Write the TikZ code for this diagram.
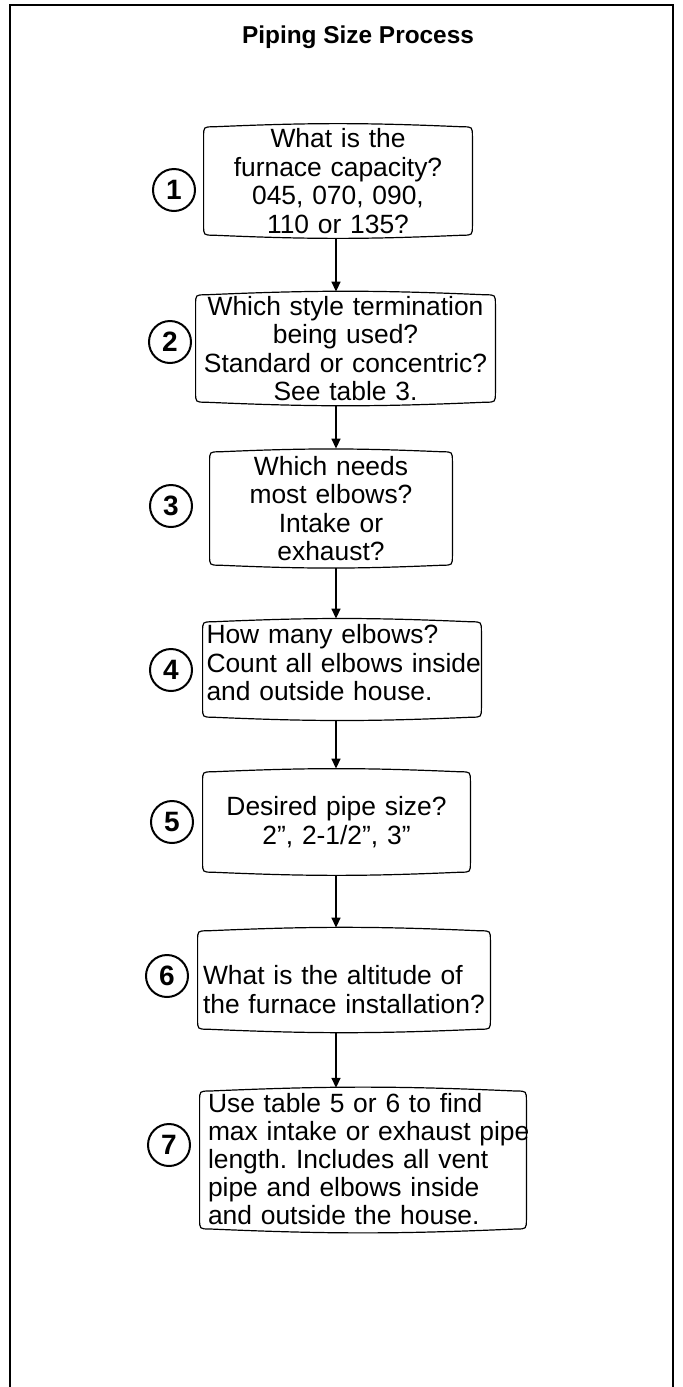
\documentclass[tikz,border=0pt]{standalone}
\usepackage{fontspec}
\setmainfont{Liberation Sans}
\usetikzlibrary{arrows.meta}

\begin{document}
\begin{tikzpicture}[x=0.5pt, y=-0.5pt,
    stepbox/.style={inner xsep=2pt, inner ysep=0.5pt, font=\fontsize{13.2}{14.3}\selectfont\frenchspacing},
    boxline/.style={line width=0.6pt},
    num/.style={draw, circle, line width=1pt, minimum size=21pt, inner sep=0pt, font=\fontsize{14}{14}\selectfont\bfseries},
    flow/.style={-{Triangle[width=4.5pt,length=5pt]}, line width=0.7pt}]

    % Area del disegno
    \useasboundingbox (0,0) rectangle (683,1387);

    % Cornice (aperta in basso)
    \draw[line width=1.3pt] (10,1387) -- (10,5) -- (673,5) -- (673,1387);

    % Titolo
    \node[font=\fontsize{12.2}{14}\selectfont\bfseries, anchor=base] (title) at (358,43) {Piping Size Process};

    % Passo 1
    \node[stepbox, text width=130pt, align=center, minimum height=57pt] (b1) at (338,181) {What is the\\ furnace capacity?\\ 045, 070, 090,\\ 110 or 135?};
    \node[num] (n1) at (174,190) {1};

    % Passo 2
    \node[stepbox, text width=145.5pt, align=center, minimum height=56.5pt] (b2) at (345.5,348.5) {Which style termination\\ being used?\\ Standard or concentric?\\ See table 3.};
    \node[num] (n2) at (170,342) {2};

    % Passo 3
    \node[stepbox, text width=117pt, align=center, minimum height=59.5pt] (b3) at (331,508.5) {Which needs\\ most elbows?\\ Intake or\\ exhaust?};
    \node[num] (n3) at (171,506) {3};

    % Passo 4
    \node[stepbox, inner xsep=1.75pt, text width=135.5pt, align=left, minimum height=50.5pt] (b4) at (342,669.5) {How many elbows?\\ \mbox{Count all elbows inside}\\ and outside house.\rule[-7pt]{0pt}{0pt}};
    \node[num] (n4) at (171,670) {4};

    % Passo 5
    \node[stepbox, text width=129.5pt, align=center, minimum height=53pt] (b5) at (336.5,822) {Desired pipe size?\\ 2”, 2-1/2”, 3”};
    \node[num] (n5) at (172,822) {5};

    % Passo 6 (testo un po' piu' in basso)
    \node[stepbox, inner xsep=2.5pt, text width=141pt, align=left, minimum height=52pt] (b6) at (344,980) {\rule{0pt}{19pt}What is the altitude of\\ \mbox{the furnace installation?}};
    \node[num] (n6) at (167,976) {6};

    % Passo 7 (la riga lunga esce dal bordo)
    \node[stepbox, font=\fontsize{13.2}{14}\selectfont\frenchspacing, inner xsep=4pt, inner ysep=2.6pt, text width=155pt, align=left] (b7) at (363,1160) {Use table 5 or 6 to find\\ \mbox{max intake or exhaust pipe}\\ length. Includes all vent\\ pipe and elbows inside\\ and outside the house.\rule[-1pt]{0pt}{0pt}};
    \node[num] (n7) at (169,1145) {7};

    % Contorni dei riquadri, bordi sopra e sotto leggermente curvi
    \foreach \b in {b1,b2,b3,b4,b5,b6,b7}
        \draw[boxline] ([yshift=-6.6pt]\b.north west)
            .. controls ([yshift=-1.6pt]\b.north west) .. ([xshift=5pt,yshift=-1.6pt]\b.north west)
            to[bend left=2.5] ([xshift=-5pt,yshift=-1.6pt]\b.north east)
            .. controls ([yshift=-1.6pt]\b.north east) .. ([yshift=-6.6pt]\b.north east)
            -- ([yshift=6.6pt]\b.south east)
            .. controls ([yshift=1.6pt]\b.south east) .. ([xshift=-5pt,yshift=1.6pt]\b.south east)
            to[bend left=2.5] ([xshift=5pt,yshift=1.6pt]\b.south west)
            .. controls ([yshift=1.6pt]\b.south west) .. ([yshift=6.6pt]\b.south west)
            -- cycle;

    % Frecce tra i passi
    \coordinate (spine) at (336,0);
    \draw[flow] (b1.south -| spine) -- (b2.north -| spine);
    \draw[flow] (b2.south -| spine) -- (b3.north -| spine);
    \draw[flow] (b3.south -| spine) -- (b4.north -| spine);
    \draw[flow] (b4.south -| spine) -- (b5.north -| spine);
    \draw[flow] (b5.south -| spine) -- (b6.north -| spine);
    \draw[flow] (b6.south -| spine) -- (b7.north -| spine);

\end{tikzpicture}
\end{document}
